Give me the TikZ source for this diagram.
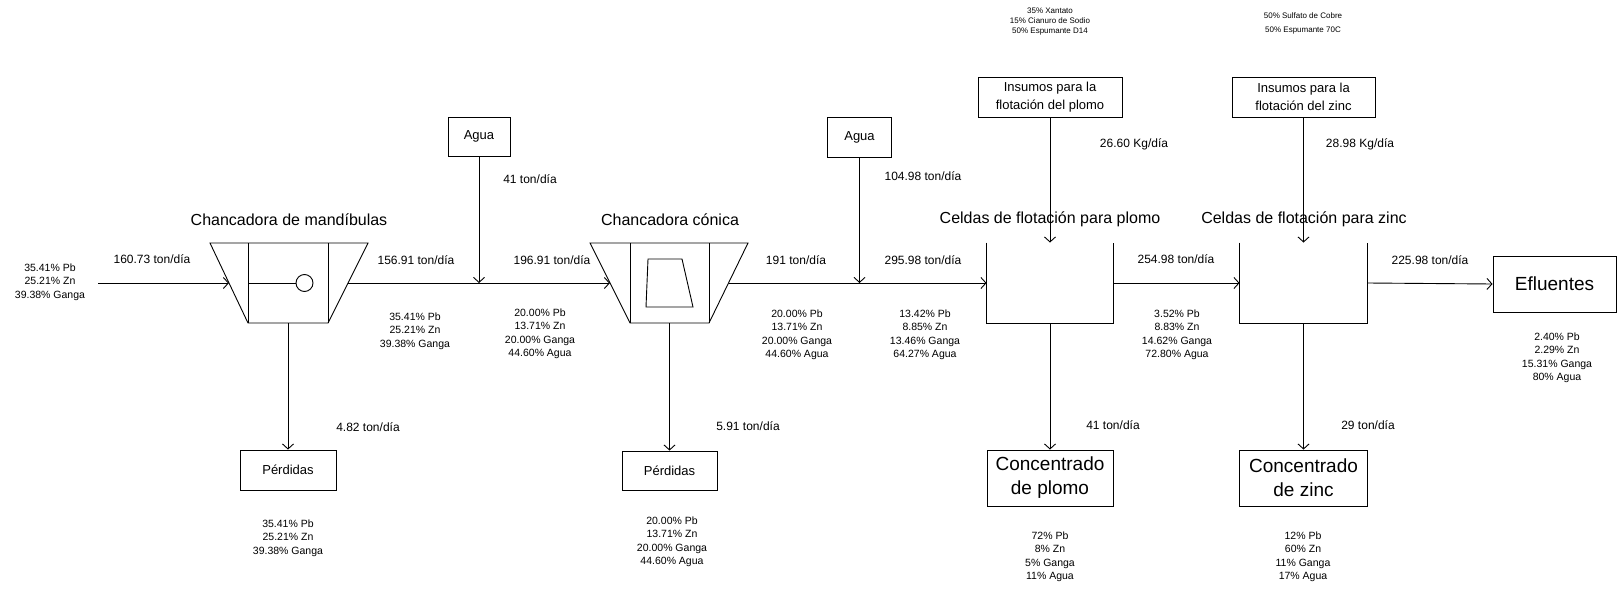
\documentclass[tikz,border=0pt]{standalone}
\usepackage{fontspec}
\setmainfont{Liberation Sans}
\usetikzlibrary{arrows.meta,positioning}

\begin{document}
\begin{tikzpicture}[x=1pt, y=-1pt, line width=0.9pt,
  unit/.style={draw, inner sep=0pt, align=center},
  cell/.style={inner sep=0pt, minimum height=80},
  flow/.style={-{Straight Barb[length=5pt, width=11pt]}},
  rate/.style={font=\fontsize{12}{14}\selectfont},
  comp/.style={font=\fontsize{10.5}{13.5}\selectfont, align=center},
  dose/.style={font=\fontsize{8}{10}\selectfont, align=center},
  title/.style={font=\fontsize{16}{18}\selectfont}
]
  \useasboundingbox (0,0) rectangle (1617,589);

  % chancadora de mandibulas
  \draw (210,243) -- (368,243) -- (328,323) -- (248,323) -- cycle;
  \draw (248,243) -- (248,323) (328,243) -- (328,323);
  \draw (248,283) -- (296,283);
  \draw (304.5,283) circle[radius=8.5];
  \coordinate (jawIn) at (229,283);
  \coordinate (jawOut) at (348,283);
  \coordinate (jawBot) at (288,323);
  \node[title] (tJaw) at (289,220) {Chancadora de mandíbulas};

  % chancadora conica
  \draw (590,243) -- (748,243) -- (709,323) -- (630,323) -- cycle;
  \draw (630,243) -- (630,323) (709,243) -- (709,323);
  \draw (648,259) -- (682,259) -- (693,307) -- (646,307) -- cycle;
  \coordinate (conIn) at (610,283);
  \coordinate (conOut) at (728.5,283);
  \coordinate (conBot) at (669.5,323);
  \node[title] (tCon) at (670,220) {Chancadora cónica};

  % celdas de flotacion
  \node[cell, minimum width=126] (celPb) at (1050,283) {};
  \node[cell, minimum width=127] (celZn) at (1303.5,283) {};
  \draw (celPb.north west) -- (celPb.south west) -- (celPb.south east) -- (celPb.north east);
  \draw (celZn.north west) -- (celZn.south west) -- (celZn.south east) -- (celZn.north east);
  \node[title] (tPb) at (1050,219) {Celdas de flotación para plomo};
  \node[title] (tZn) at (1304,219) {Celdas de flotación para zinc};

  % cajas
  \node[unit, minimum width=62, minimum height=39, font=\fontsize{13}{15}\selectfont] (agua1) at (479,136.5) {Agua};
  \node[unit, minimum width=64, minimum height=40, font=\fontsize{13}{15}\selectfont] (agua2) at (859.5,137) {Agua};
  \node[unit, minimum width=96, minimum height=40, font=\fontsize{13}{15}\selectfont] (perd1) at (288,470) {Pérdidas};
  \node[unit, minimum width=95, minimum height=39, font=\fontsize{13}{15}\selectfont] (perd2) at (669.5,470.5) {Pérdidas};
  \node[unit, minimum width=144, minimum height=40, font=\fontsize{13}{18}\selectfont] (insPb) at (1050,97) {Insumos para la\\flotación del plomo};
  \node[unit, minimum width=143, minimum height=40, font=\fontsize{13}{18}\selectfont] (insZn) at (1303.5,97) {Insumos para la\\flotación del zinc};
  \node[unit, minimum width=126, minimum height=56, font=\fontsize{19}{24}\selectfont] (concPb) at (1050,478) {Concentrado\\de plomo};
  \node[unit, minimum width=128, minimum height=56, font=\fontsize{19}{24}\selectfont] (concZn) at (1303.5,478) {Concentrado\\de zinc};
  \node[unit, minimum width=123, minimum height=56, font=\fontsize{19}{22}\selectfont] (eflu) at (1554.5,284) {Efluentes};

  \coordinate (feed) at (98,283);
  \coordinate (mix1) at (479,283);
  \coordinate (mix2) at (859.5,283);

  % corrientes
  \draw[flow] (feed) -- (jawIn);
  \draw[flow] (jawOut) -- (conIn);
  \draw[flow] (agua1) -- (mix1);
  \draw[flow] (jawBot) -- (perd1);
  \draw[flow] (conOut) -- (celPb.west);
  \draw[flow] (agua2) -- (mix2);
  \draw[flow] (conBot) -- (perd2);
  \draw[flow] (insPb) -- (celPb.north);
  \draw[flow] (insZn) -- (celZn.north);
  \draw[flow] (celPb.east) -- (celZn.west);
  \draw[flow] (celPb.south) -- (concPb.north);
  \draw[flow] (celZn.south) -- (concZn.north);
  \draw[flow] (celZn.east) -- (eflu.west);

  % flujos
  \node[rate] (f1) at (152,259) {160.73 ton/día};
  \node[rate] (f2) at (416,260) {156.91 ton/día};
  \node[rate] (f3) at (530,179) {41 ton/día};
  \node[rate] (f4) at (552,260) {196.91 ton/día};
  \node[rate] (f5) at (368,427) {4.82 ton/día};
  \node[rate] (f6) at (748,426) {5.91 ton/día};
  \node[rate] (f7) at (796,260) {191 ton/día};
  \node[rate] (f8) at (923,176) {104.98 ton/día};
  \node[rate] (f9) at (923,260) {295.98 ton/día};
  \node[rate] (f10) at (1134,144) {26.60 Kg/día};
  \node[rate] (f11) at (1360,144) {28.98 Kg/día};
  \node[rate] (f12) at (1176,259) {254.98 ton/día};
  \node[rate] (f13) at (1430,260) {225.98 ton/día};
  \node[rate] (f14) at (1113,425) {41 ton/día};
  \node[rate] (f15) at (1368,425) {29 ton/día};

  % composiciones
  \node[comp] (c1) at (50,282) {35.41\% Pb\\25.21\% Zn\\39.38\% Ganga};
  \node[comp] (c2) at (415,331) {35.41\% Pb\\25.21\% Zn\\39.38\% Ganga};
  \node[comp] (c3) at (540,334) {20.00\% Pb\\13.71\% Zn\\20.00\% Ganga\\44.60\% Agua};
  \node[comp] (c4) at (797,335) {20.00\% Pb\\13.71\% Zn\\20.00\% Ganga\\44.60\% Agua};
  \node[comp] (c5) at (925,335) {13.42\% Pb\\8.85\% Zn\\13.46\% Ganga\\64.27\% Agua};
  \node[comp] (c6) at (1177,335) {3.52\% Pb\\8.83\% Zn\\14.62\% Ganga\\72.80\% Agua};
  \node[comp] (c7) at (1557,358) {2.40\% Pb\\2.29\% Zn\\15.31\% Ganga\\80\% Agua};
  \node[comp] (c8) at (288,538) {35.41\% Pb\\25.21\% Zn\\39.38\% Ganga};
  \node[comp] (c9) at (672,542) {20.00\% Pb\\13.71\% Zn\\20.00\% Ganga\\44.60\% Agua};
  \node[comp] (c10) at (1050,557) {72\% Pb\\8\% Zn\\5\% Ganga\\11\% Agua};
  \node[comp] (c11) at (1303,557) {12\% Pb\\60\% Zn\\11\% Ganga\\17\% Agua};
  \node[dose] (d1) at (1050,22) {35\% Xantato\\15\% Cianuro de Sodio\\50\% Espumante D14};
  \node[dose, font=\fontsize{8}{14}\selectfont] (d2) at (1303,23) {50\% Sulfato de Cobre\\50\% Espumante 70C};
\end{tikzpicture}
\end{document}
